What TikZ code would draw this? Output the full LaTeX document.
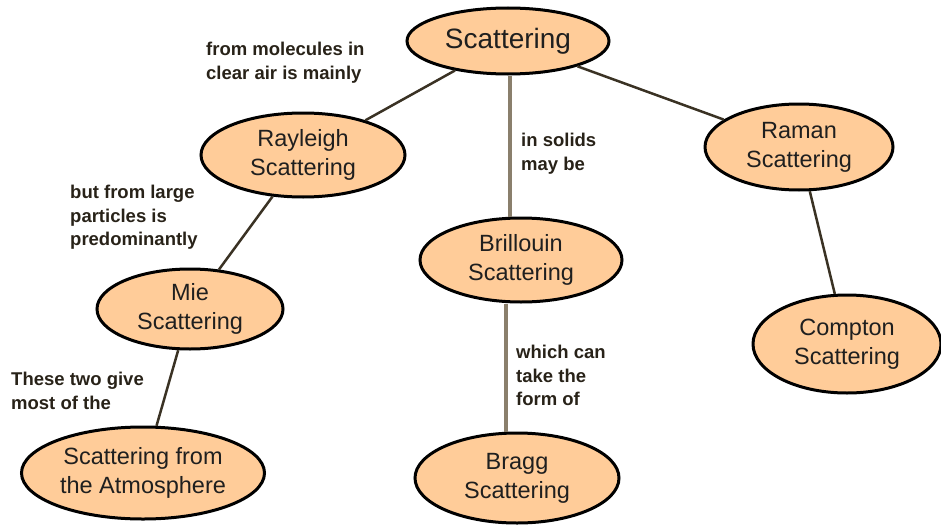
\documentclass[tikz,border=0pt]{standalone}
\usepackage{fontspec}
\setmainfont{Liberation Sans}
\usetikzlibrary{shapes.geometric}
\definecolor{peach}{RGB}{255,204,153}
\definecolor{diagline}{RGB}{58,50,36}
\definecolor{vertline}{RGB}{138,127,108}
\definecolor{lbltext}{RGB}{40,34,24}
\tikzset{
  concept/.style={ellipse, draw=black, line width=3pt, fill=peach, inner sep=0pt,
    align=center, text=black!88, font=\fontsize{23.5}{29}\selectfont},
  lbl/.style={inner sep=0pt, align=left, anchor=north west, text=lbltext,
    font=\bfseries\fontsize{18.5}{23.5}\selectfont},
  diag/.style={draw=diagline, line width=2.5pt},
  vert/.style={draw=vertline, line width=4pt}
}
\begin{document}
\begin{tikzpicture}[x=1pt,y=-1pt]
\useasboundingbox (0,0) rectangle (941,527);
% concept nodes
\node[concept, minimum width=202pt, minimum height=66pt, font=\fontsize{28}{32}\selectfont] (S) at (508,41) {Scattering};
\node[concept, minimum width=204pt, minimum height=84pt] (R) at (303,155) {Rayleigh\\Scattering};
\node[concept, minimum width=188pt, minimum height=86pt] (Ra) at (799,147) {Raman\\Scattering};
\node[concept, minimum width=202pt, minimum height=84pt] (B) at (521,260) {Brillouin\\Scattering};
\node[concept, minimum width=186pt, minimum height=80pt] (M) at (190,309) {Mie\\Scattering};
\node[concept, minimum width=188pt, minimum height=98pt] (C) at (847,344) {Compton\\Scattering};
\node[concept, minimum width=243pt, minimum height=92pt] (A) at (143,473) {Scattering from\\the Atmosphere};
\node[concept, minimum width=204pt, minimum height=90pt] (G) at (517,478) {Bragg\\Scattering};
% connectors
\draw[diag] (S) -- (R);
\draw[diag] (S) -- (Ra);
\draw[diag] (R) -- (M);
\draw[diag] (M) -- (A);
\draw[diag] (Ra) -- (C);
\draw[vert] ([xshift=2pt]S.south) -- ([xshift=-11pt]B.north);
\draw[vert] ([xshift=-15pt]B.south) -- ([xshift=-11pt]G.north);
% labels
\node[lbl] (l1) at (206,42) {from molecules in\\clear air is mainly};
\node[lbl] (l2) at (521,133) {in solids\\may be};
\node[lbl] (l3) at (70,185) {but from large\\particles is\\predominantly};
\node[lbl] (l4) at (516,345) {which can\\take the\\form of};
\node[lbl] (l5) at (11,372) {These two give\\most of the};
\end{tikzpicture}
\end{document}
